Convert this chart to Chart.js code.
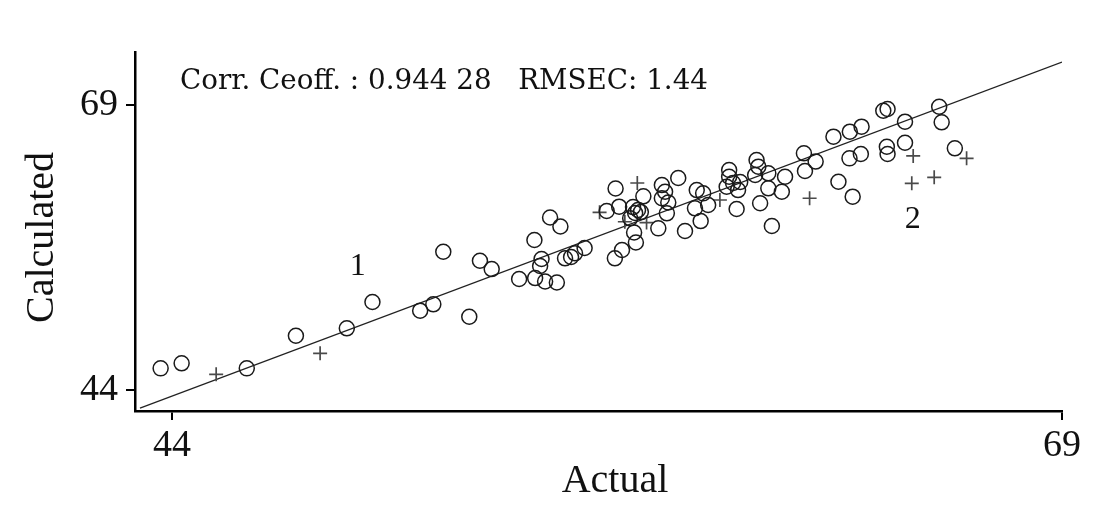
<!DOCTYPE html>
<html lang="en">
<head>
  <meta charset="UTF-8">
  <title>Calculated vs Actual</title>
  <script src="https://cdn.jsdelivr.net/npm/chart.js"></script>
  <style>
    body { margin: 0; background: #fff; }
    #wrap { width: 1098px; height: 509px; }
  </style>
</head>
<body>
  <div id="wrap"><canvas id="scatterChart" width="1098" height="509"></canvas></div>

  <script>
    // calibration samples (circles)
    const actualCal = [43.68, 44.27, 46.10, 47.48, 48.91, 49.63, 50.97, 51.34, 51.62, 52.35,
      52.65, 52.98, 53.75, 54.18, 54.38, 54.34, 54.20, 54.48, 54.81, 54.62,
      54.91, 55.04, 55.21, 55.32, 55.59, 56.21, 56.46, 56.56, 56.64, 56.44,
      57.03, 56.98, 57.24, 56.95, 57.09, 57.17, 57.01, 56.87, 57.66, 57.76,
      57.85, 57.76, 57.94, 57.90, 58.22, 58.41, 58.74, 58.92, 58.69, 59.06,
      58.85, 59.65, 59.65, 59.58, 59.76, 59.96, 59.90, 59.86, 60.42, 60.47,
      60.38, 60.75, 60.75, 60.52, 60.85, 61.22, 61.13, 61.75, 61.78, 62.08,
      62.58, 63.04, 63.37, 63.03, 63.35, 62.72, 63.12, 63.98, 64.10, 64.08,
      64.10, 64.59, 64.59, 65.55, 65.62, 65.99];
    const calcCal = [45.90, 46.34, 45.90, 48.76, 49.41, 51.72, 50.96, 51.52, 56.13, 50.43,
      55.34, 54.61, 53.74, 57.16, 55.49, 54.88, 53.82, 53.52, 53.43, 59.13,
      58.34, 55.55, 55.67, 55.99, 56.46, 59.70, 61.68, 60.08, 56.28, 55.55,
      56.94, 57.82, 60.99, 60.05, 59.79, 59.61, 59.53, 59.06, 58.18, 61.98,
      61.39, 60.82, 60.45, 59.50, 62.60, 57.95, 61.54, 61.25, 59.94, 60.23,
      58.82, 63.30, 62.71, 61.83, 62.16, 62.25, 61.54, 59.88, 64.18, 63.59,
      62.86, 63.01, 61.69, 60.38, 58.39, 62.71, 61.39, 64.76, 63.21, 64.04,
      66.22, 66.66, 67.10, 64.32, 64.70, 62.27, 60.96, 68.50, 68.65, 65.34,
      64.70, 67.54, 65.69, 68.85, 67.48, 65.20];

    // validation samples (plus signs)
    const actualVal = [45.24, 48.16, 56.01, 57.07, 56.72, 57.33, 59.39, 61.91, 64.82, 64.78, 65.41, 66.32];
    const calcVal = [45.38, 47.22, 59.59, 62.16, 58.76, 58.69, 60.67, 60.82, 64.53, 62.13, 62.66, 64.32];

    // regression line end points
    const fitX = [43.1, 69];
    const fitY = [42.42, 72.77];

    const tickValues = [44, 69];
    const statsText = 'Corr. Ceoff. : 0.944 28   RMSEC: 1.44';
    const groupLabels = [{ text: '1', x: 49.22, y: 54.82 }, { text: '2', x: 64.81, y: 58.91 }];

    const toPoints = (xs, ys) => xs.map((x, i) => ({ x: x, y: ys[i] }));

    const serif = '"Liberation Serif", "DejaVu Serif", serif';

    // texts: stats line, group numbers, axis titles
    const textPlugin = {
      id: 'texts',
      afterDraw(chart) {
        const ctx = chart.ctx;
        const xs = chart.scales.x, ys = chart.scales.y;
        const area = chart.chartArea;
        ctx.save();
        ctx.fillStyle = '#111';
        ctx.textBaseline = 'alphabetic';

        ctx.font = '28px "DejaVu Serif", serif';
        ctx.textAlign = 'left';
        const w = ctx.measureText(statsText).width;
        ctx.save();
        ctx.translate(180, 89);
        ctx.scale(Math.min(1.3, 528 / w), 1);
        ctx.fillText(statsText, 0, 0);
        ctx.restore();

        ctx.textBaseline = 'middle';
        ctx.font = '32px ' + serif;
        ctx.textAlign = 'center';
        groupLabels.forEach(g => {
          ctx.fillText(g.text, xs.getPixelForValue(g.x), ys.getPixelForValue(g.y));
        });

        ctx.textBaseline = 'alphabetic';
        ctx.font = '40px ' + serif;
        ctx.fillText('Actual', 615, 492);

        ctx.translate(53, (area.top + area.bottom) / 2 + 6);
        ctx.rotate(-Math.PI / 2);
        ctx.fillText('Calculated', 0, 0);
        ctx.restore();
      }
    };

    new Chart(document.getElementById('scatterChart'), {
      type: 'scatter',
      data: {
        datasets: [
          {
            label: 'Calibration',
            data: toPoints(actualCal, calcCal),
            pointStyle: 'circle',
            pointRadius: 7.5,
            pointBorderWidth: 1.5,
            borderColor: '#1a1a1a',
            backgroundColor: 'rgba(0,0,0,0)'
          },
          {
            label: 'Validation',
            data: toPoints(actualVal, calcVal),
            pointStyle: 'cross',
            pointRadius: 7,
            pointBorderWidth: 1.7,
            borderColor: '#4a4a4a',
            backgroundColor: 'rgba(0,0,0,0)'
          },
          {
            type: 'line',
            label: 'Fit',
            data: toPoints(fitX, fitY),
            borderColor: '#222',
            borderWidth: 1.3,
            pointRadius: 0,
            fill: false
          }
        ]
      },
      options: {
        responsive: false,
        animation: false,
        layout: { padding: { left: 0, right: 36, top: 52, bottom: 0 } },
        plugins: {
          legend: { display: false },
          tooltip: { enabled: false }
        },
        scales: {
          x: {
            type: 'linear',
            min: 42.96,
            max: 69,
            afterBuildTicks: s => { s.ticks = tickValues.map(v => ({ value: v })); },
            afterFit: s => { s.height = 98; },
            grid: { drawOnChartArea: false, drawTicks: true, tickLength: 9, color: '#000', lineWidth: 2 },
            border: { display: true, color: '#000', width: 2.5 },
            ticks: { color: '#111', padding: 3, maxRotation: 0, font: { family: serif, size: 38 } }
          },
          y: {
            type: 'linear',
            min: 42.16,
            max: 73.65,
            afterBuildTicks: s => { s.ticks = tickValues.map(v => ({ value: v })); },
            afterFit: s => { s.width = 135; },
            grid: { drawOnChartArea: false, drawTicks: true, tickLength: 9, color: '#000', lineWidth: 2 },
            border: { display: true, color: '#000', width: 2.5 },
            ticks: { color: '#111', padding: 8, font: { family: serif, size: 38 } }
          }
        }
      },
      plugins: [textPlugin]
    });
  </script>
</body>
</html>
